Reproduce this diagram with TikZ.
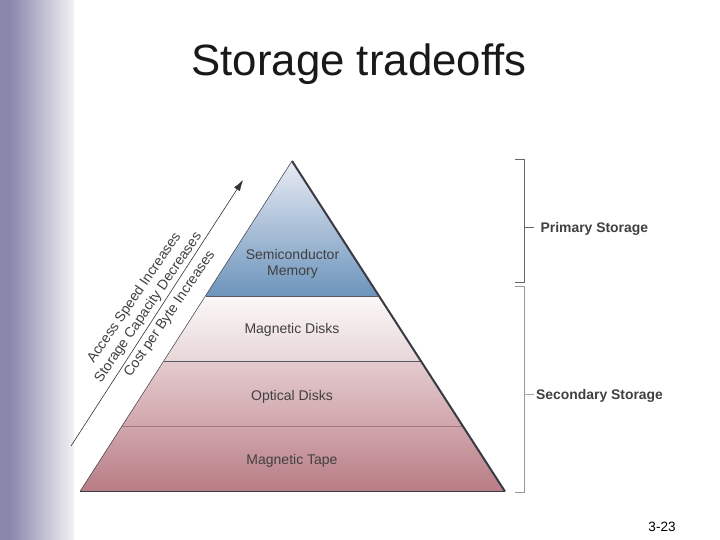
\documentclass[tikz,border=0pt]{standalone}
\usepackage{fontspec}
\usetikzlibrary{arrows.meta}
\setmainfont{Liberation Sans}
\definecolor{lab}{HTML}{404040}
\definecolor{edge}{HTML}{3A3A44}
\definecolor{band}{RGB}{138,134,174}
\newcommand{\fs}[1]{\fontsize{#1}{#1}\selectfont}
\tikzset{
  tier/.style={font=\fs{14}, text=lab, align=center, inner sep=0pt},
  side/.style={font=\fs{14}, text=lab, inner sep=0pt, rotate=55.6},
  store/.style={font=\fs{13.9}\bfseries, text=lab, inner sep=0pt, anchor=west},
  brack/.style={draw=gray!80!black, line width=1pt},
  divider/.style={draw=edge!85, line width=1pt}
}
\begin{document}
\begin{tikzpicture}[x=1pt,y=-1pt]
\useasboundingbox (0,0) rectangle (720,540);
\fill[white] (0,0) rectangle (720,540);
\fill[band] (0,0) rectangle (10,540);
\shade[left color=band, right color=white!95!black] (10,0) rectangle (74,540);
% pyramid tiers
\coordinate (apex) at (292,161);
\coordinate (bl) at (80,491.5);
\coordinate (br) at (505,491.5);
\coordinate (l1) at (205.5,296); \coordinate (r1) at (378,296);
\coordinate (l2) at (164,361);   \coordinate (r2) at (420,361);
\coordinate (l3) at (122,426);   \coordinate (r3) at (463,426);
\shade[top color={rgb,255:red,232;green,235;blue,243}, bottom color={rgb,255:red,108;green,148;blue,188}] (apex) -- (r1) -- (l1) -- cycle;
\shade[top color={rgb,255:red,252;green,248;blue,248}, bottom color={rgb,255:red,231;green,214;blue,216}] (l1) -- (r1) -- (r2) -- (l2) -- cycle;
\shade[top color={rgb,255:red,228;green,203;blue,206}, bottom color={rgb,255:red,208;green,166;blue,172}] (l2) -- (r2) -- (r3) -- (l3) -- cycle;
\shade[top color={rgb,255:red,208;green,166;blue,172}, bottom color={rgb,255:red,184;green,124;blue,132}] (l3) -- (r3) -- (br) -- (bl) -- cycle;
\draw[divider] (l1) -- (r1);
\draw[divider] (l2) -- (r2);
\draw[draw={rgb,255:red,160;green,120;blue,128}, line width=.6pt] (l3) -- (r3);
\draw[edge, line width=1pt] (bl) -- (br);
\draw[edge, line width=.5pt] (bl) -- (apex);
\draw[edge, line width=2pt, line join=miter] (apex) -- (br);
% tier labels
\node[tier] (semi) at (292.5,264) {Semiconductor\\[2pt]Memory};
\node[tier] (magd) at (292,330) {Magnetic Disks};
\node[tier] (opt) at (292,397) {Optical Disks};
\node[tier] (tape) at (292,461) {Magnetic Tape};
% arrow
\coordinate (as) at (71,446);
\coordinate (ae) at (243,180);
\draw[black!80, line width=.6pt, -{Latex[length=11pt,width=7pt]}] (as) -- (ae);
\node[side] (t1) at (134.5,298) {Access Speed Increases};
\node[side] (t2) at (148.5,307.5) {Storage Capacity Decreases};
\node[side] (t3) at (170,314) {Cost per Byte Increases};
% brackets
\coordinate (a1) at (515,160); \coordinate (a2) at (524,160);
\coordinate (a3) at (524,282); \coordinate (a4) at (515,282);
\coordinate (b1) at (515,286); \coordinate (b2) at (524,286);
\coordinate (b3) at (524,492); \coordinate (b4) at (515,492);
\node[store] (prim) at (540.5,229) {Primary Storage};
\node[store] (sec) at (536,396) {Secondary Storage};
\draw[brack] (a1) -- (a2) -- (a3) -- (a4);
\draw[brack, draw=gray!80] (b1) -- (b2) -- (b3) -- (b4);
\draw[brack, line width=.7pt] (524,227) -- +(10,0);
\draw[brack, line width=.7pt, draw=gray!70] (524,394) -- +(10,0);
% title and page number
\node[font=\fs{43.8}, text=black!90, inner sep=0pt] (title) at (359,64) {Storage tradeoffs};
\node[font=\fs{13.5}, text=black, inner sep=0pt] (page) at (662,527) {3-23};
\end{tikzpicture}
\end{document}
